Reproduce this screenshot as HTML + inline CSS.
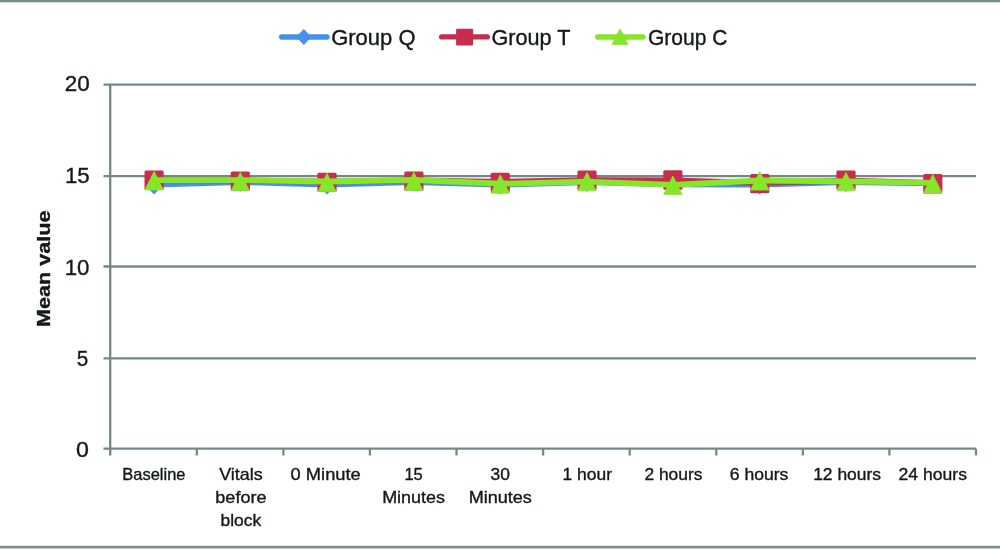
<!DOCTYPE html>
<html><head><meta charset="utf-8"><title>Mean value chart</title>
<style>
html,body{margin:0;padding:0;background:#fff;}
body{width:1000px;height:549px;overflow:hidden;font-family:"Liberation Sans",sans-serif;}
svg{display:block;filter:blur(0.35px)}
text{font-family:"Liberation Sans",sans-serif;fill:#12181b;stroke:#12181b;stroke-width:0.35px}
</style></head><body>
<svg width="1000" height="549" viewBox="0 0 1000 549">
<rect x="0" y="0" width="1000" height="549" fill="#ffffff"/>

<rect x="0" y="0" width="1000" height="2" fill="#7a8a8c"/>
<rect x="0" y="2" width="1000" height="1" fill="#7a8a8c" opacity="0.3"/>
<rect x="0" y="545.8" width="1000" height="2.2" fill="#7d8b8e"/>
<rect x="0" y="548" width="1000" height="1" fill="#c5cdcd"/>
<line x1="103.5" y1="84.6" x2="976.0" y2="84.6" stroke="#748888" stroke-width="2.3"/>
<line x1="103.5" y1="176.1" x2="976.0" y2="176.1" stroke="#748888" stroke-width="2.3"/>
<line x1="103.5" y1="266.5" x2="976.0" y2="266.5" stroke="#748888" stroke-width="2.3"/>
<line x1="103.5" y1="358.4" x2="976.0" y2="358.4" stroke="#748888" stroke-width="2.3"/>
<line x1="103.5" y1="448.7" x2="976.0" y2="448.7" stroke="#748888" stroke-width="2.3"/>
<line x1="110.2" y1="84.6" x2="110.2" y2="455.5" stroke="#748888" stroke-width="2.3"/>
<line x1="196.8" y1="448.7" x2="196.8" y2="455.5" stroke="#748888" stroke-width="2.3"/>
<line x1="283.4" y1="448.7" x2="283.4" y2="455.5" stroke="#748888" stroke-width="2.3"/>
<line x1="369.9" y1="448.7" x2="369.9" y2="455.5" stroke="#748888" stroke-width="2.3"/>
<line x1="456.5" y1="448.7" x2="456.5" y2="455.5" stroke="#748888" stroke-width="2.3"/>
<line x1="543.1" y1="448.7" x2="543.1" y2="455.5" stroke="#748888" stroke-width="2.3"/>
<line x1="629.7" y1="448.7" x2="629.7" y2="455.5" stroke="#748888" stroke-width="2.3"/>
<line x1="716.3" y1="448.7" x2="716.3" y2="455.5" stroke="#748888" stroke-width="2.3"/>
<line x1="802.8" y1="448.7" x2="802.8" y2="455.5" stroke="#748888" stroke-width="2.3"/>
<line x1="889.4" y1="448.7" x2="889.4" y2="455.5" stroke="#748888" stroke-width="2.3"/>
<line x1="976.0" y1="448.7" x2="976.0" y2="455.5" stroke="#748888" stroke-width="2.3"/>
<text x="89.8" y="91.35" font-size="22" text-anchor="end" textLength="25.0" lengthAdjust="spacingAndGlyphs">20</text>
<text x="89.7" y="183.0" font-size="22" text-anchor="end" textLength="24.8" lengthAdjust="spacingAndGlyphs">15</text>
<text x="89.5" y="274.75" font-size="22" text-anchor="end" textLength="24.8" lengthAdjust="spacingAndGlyphs">10</text>
<text x="88.3" y="365.65" font-size="22" text-anchor="end" textLength="11.5" lengthAdjust="spacingAndGlyphs">5</text>
<text x="88.8" y="456.95" font-size="22" text-anchor="end" textLength="12.9" lengthAdjust="spacingAndGlyphs">0</text>
<text transform="translate(50,268.7) rotate(-90)" font-size="18.2" font-weight="bold" text-anchor="middle" textLength="116.5" lengthAdjust="spacingAndGlyphs" fill="#111">Mean value</text>
<text x="153.9" y="479.7" font-size="17" text-anchor="middle" textLength="63.2" lengthAdjust="spacingAndGlyphs">Baseline</text>
<text x="240.9" y="479.7" font-size="17" text-anchor="middle" textLength="43.5" lengthAdjust="spacingAndGlyphs">Vitals</text>
<text x="240.9" y="502.7" font-size="17" text-anchor="middle" textLength="51.2" lengthAdjust="spacingAndGlyphs">before</text>
<text x="240.9" y="525.7" font-size="17" text-anchor="middle" textLength="40.7" lengthAdjust="spacingAndGlyphs">block</text>
<text x="325.7" y="479.7" font-size="17" text-anchor="middle" textLength="70.2" lengthAdjust="spacingAndGlyphs">0 Minute</text>
<text x="413.6" y="479.7" font-size="17" text-anchor="middle" textLength="18.4" lengthAdjust="spacingAndGlyphs">15</text>
<text x="413.6" y="502.7" font-size="17" text-anchor="middle" textLength="62.9" lengthAdjust="spacingAndGlyphs">Minutes</text>
<text x="500.3" y="479.7" font-size="17" text-anchor="middle" textLength="19.4" lengthAdjust="spacingAndGlyphs">30</text>
<text x="500.3" y="502.7" font-size="17" text-anchor="middle" textLength="63.2" lengthAdjust="spacingAndGlyphs">Minutes</text>
<text x="587.3" y="479.7" font-size="17" text-anchor="middle" textLength="49.4" lengthAdjust="spacingAndGlyphs">1 hour</text>
<text x="673.4" y="479.7" font-size="17" text-anchor="middle" textLength="58.0" lengthAdjust="spacingAndGlyphs">2 hours</text>
<text x="759.1" y="479.7" font-size="17" text-anchor="middle" textLength="58.6" lengthAdjust="spacingAndGlyphs">6 hours</text>
<text x="847.1" y="479.7" font-size="17" text-anchor="middle" textLength="67.9" lengthAdjust="spacingAndGlyphs">12 hours</text>
<text x="932.8" y="479.7" font-size="17" text-anchor="middle" textLength="68.4" lengthAdjust="spacingAndGlyphs">24 hours</text>
<polyline points="154.1,184.7 240.3,182 327.0,184.7 413.9,182 500.3,184.7 587.0,182.2 672.9,184.3 759.8,184.7 846.0,182.2 932.8,183.3" fill="none" stroke="#4490f0" stroke-width="5.8" stroke-linejoin="round" stroke-linecap="round"/>
<polygon points="154.1,175.0 163.29999999999998,184.7 154.1,194.39999999999998 144.9,184.7" fill="#4490f0"/>
<polygon points="240.3,172.3 249.5,182 240.3,191.7 231.10000000000002,182" fill="#4490f0"/>
<polygon points="327.0,175.0 336.2,184.7 327.0,194.39999999999998 317.8,184.7" fill="#4490f0"/>
<polygon points="413.9,172.3 423.09999999999997,182 413.9,191.7 404.7,182" fill="#4490f0"/>
<polygon points="500.3,175.0 509.5,184.7 500.3,194.39999999999998 491.1,184.7" fill="#4490f0"/>
<polygon points="587.0,172.5 596.2,182.2 587.0,191.89999999999998 577.8,182.2" fill="#4490f0"/>
<polygon points="672.9,174.60000000000002 682.1,184.3 672.9,194.0 663.6999999999999,184.3" fill="#4490f0"/>
<polygon points="759.8,175.0 769.0,184.7 759.8,194.39999999999998 750.5999999999999,184.7" fill="#4490f0"/>
<polygon points="846.0,172.5 855.2,182.2 846.0,191.89999999999998 836.8,182.2" fill="#4490f0"/>
<polygon points="932.8,173.60000000000002 942.0,183.3 932.8,193.0 923.5999999999999,183.3" fill="#4490f0"/>
<polyline points="154.1,180.2 240.3,180.4 327.0,181.6 413.9,180.3 500.3,181.8 587.0,180.1 672.9,180.3 759.8,182.8 846.0,180.6 932.8,182.8" fill="none" stroke="#c82d4e" stroke-width="5.8" stroke-linejoin="round" stroke-linecap="round"/>
<rect x="144.5" y="170.5" width="19.2" height="19.4" rx="1.5" fill="#c82d4e"/>
<rect x="230.7" y="171.4" width="19.2" height="19.4" rx="1.5" fill="#c82d4e"/>
<rect x="317.4" y="172.7" width="19.2" height="19.4" rx="1.5" fill="#c82d4e"/>
<rect x="404.3" y="171.4" width="19.2" height="19.4" rx="1.5" fill="#c82d4e"/>
<rect x="490.7" y="172.7" width="19.2" height="19.4" rx="1.5" fill="#c82d4e"/>
<rect x="577.4" y="170.5" width="19.2" height="19.4" rx="1.5" fill="#c82d4e"/>
<rect x="663.3" y="170.3" width="19.2" height="19.4" rx="1.5" fill="#c82d4e"/>
<rect x="750.2" y="173.9" width="19.2" height="19.4" rx="1.5" fill="#c82d4e"/>
<rect x="836.4" y="170.5" width="19.2" height="19.4" rx="1.5" fill="#c82d4e"/>
<rect x="923.2" y="174.0" width="19.2" height="19.4" rx="1.5" fill="#c82d4e"/>
<polyline points="154.1,180.2 240.3,180.2 327.0,181.5 413.9,180.0 500.3,183.7 587.0,181.7 672.9,184.9 759.8,180.5 846.0,181.4 932.8,182.9" fill="none" stroke="#86e628" stroke-width="5.8" stroke-linejoin="round" stroke-linecap="round"/>
<polygon points="154.1,171.5 163.29999999999998,189.89999999999998 144.9,189.89999999999998" fill="#86e628" stroke="#86e628" stroke-width="0.8" stroke-linejoin="round"/>
<polygon points="240.3,172.4 249.5,190.79999999999998 231.10000000000002,190.79999999999998" fill="#86e628" stroke="#86e628" stroke-width="0.8" stroke-linejoin="round"/>
<polygon points="327.0,173.3 336.2,191.7 317.8,191.7" fill="#86e628" stroke="#86e628" stroke-width="0.8" stroke-linejoin="round"/>
<polygon points="413.9,172.3 423.09999999999997,190.7 404.7,190.7" fill="#86e628" stroke="#86e628" stroke-width="0.8" stroke-linejoin="round"/>
<polygon points="500.3,174.8 509.5,193.2 491.1,193.2" fill="#86e628" stroke="#86e628" stroke-width="0.8" stroke-linejoin="round"/>
<polygon points="587.0,172.4 596.2,190.79999999999998 577.8,190.79999999999998" fill="#86e628" stroke="#86e628" stroke-width="0.8" stroke-linejoin="round"/>
<polygon points="672.9,176.0 682.1,194.39999999999998 663.6999999999999,194.39999999999998" fill="#86e628" stroke="#86e628" stroke-width="0.8" stroke-linejoin="round"/>
<polygon points="759.8,171.60000000000002 769.0,190.0 750.5999999999999,190.0" fill="#86e628" stroke="#86e628" stroke-width="0.8" stroke-linejoin="round"/>
<polygon points="846.0,172.4 855.2,190.79999999999998 836.8,190.79999999999998" fill="#86e628" stroke="#86e628" stroke-width="0.8" stroke-linejoin="round"/>
<polygon points="932.8,174.5 942.0,192.89999999999998 923.5999999999999,192.89999999999998" fill="#86e628" stroke="#86e628" stroke-width="0.8" stroke-linejoin="round"/>
<line x1="281.7" y1="37" x2="327" y2="37" stroke="#4490f0" stroke-width="5.4" stroke-linecap="round"/>
<polygon points="303.8,28.9 311.4,37 303.8,45.1 296.2,37" fill="#4490f0"/>
<text x="331.2" y="44.8" font-size="22.2" textLength="84.3" lengthAdjust="spacingAndGlyphs">Group Q</text>
<line x1="441.7" y1="36.9" x2="487.3" y2="36.9" stroke="#c82d4e" stroke-width="5.4" stroke-linecap="round"/>
<rect x="456.1" y="28.7" width="17" height="16.8" rx="1.2" fill="#c82d4e"/>
<text x="491.4" y="44.8" font-size="22.2" textLength="79" lengthAdjust="spacingAndGlyphs">Group T</text>
<line x1="597.7" y1="37" x2="643" y2="37" stroke="#86e628" stroke-width="5.4" stroke-linecap="round"/>
<polygon points="620,29 628,44.4 612,44.4" fill="#86e628" stroke="#86e628" stroke-width="0.8" stroke-linejoin="round"/>
<text x="648" y="44.8" font-size="22.2" textLength="79.5" lengthAdjust="spacingAndGlyphs">Group C</text>
</svg></body></html>
